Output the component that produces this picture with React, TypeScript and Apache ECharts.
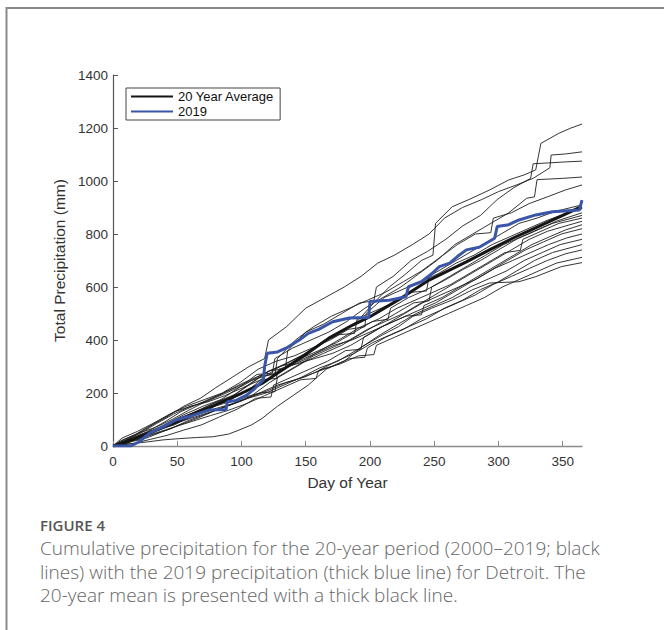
import React, { useEffect, useRef } from "react";
import * as echarts from "echarts";

// Day-of-year / cumulative precipitation (mm) pairs, one array per year (thin black lines)
const year01: [number, number][] = [[0,0],[10,18],[22,40],[35,62],[48,80],[62,115],[75,140],[90,178],[104,205],[118,262],[130,300],[145,335],[160,380],[176,430],[190,470],[203,540],[215,600],[228,650],[240,700],[249,720],[251,840],[264,903],[277,930],[293,966],[308,1004],[320,1023],[329,1042],[331,1092],[333,1142],[347,1180],[356,1199],[365,1215]];
const year02: [number, number][] = [[0,0],[6,20],[18,45],[30,80],[42,110],[55,150],[68,180],[80,220],[93,260],[106,300],[118,330],[121,400],[135,450],[150,520],[165,560],[180,600],[193,640],[206,690],[219,720],[233,760],[246,800],[258,860],[272,900],[287,930],[300,960],[314,985],[327,1010],[340,1050],[341,1098],[352,1102],[365,1110]];
const year03: [number, number][] = [[0,0],[12,22],[25,48],[38,72],[52,105],[65,130],[80,165],[95,195],[108,240],[122,285],[134,290],[136,360],[150,430],[164,460],[178,500],[192,540],[203,548],[205,600],[218,640],[232,700],[245,735],[259,780],[272,830],[286,870],[299,930],[312,975],[325,1010],[327,1065],[338,1068],[352,1072],[365,1075]];
const year04: [number, number][] = [[0,0],[14,20],[28,50],[42,85],[56,120],[70,150],[84,175],[98,220],[112,270],[124,275],[126,330],[140,370],[154,400],[168,430],[182,470],[196,520],[210,560],[224,600],[238,650],[252,700],[266,760],[280,800],[294,840],[308,880],[322,935],[328,940],[330,1005],[350,1010],[365,1015]];
const year05: [number, number][] = [[0,0],[9,25],[21,50],[33,70],[46,100],[59,135],[73,170],[86,200],[100,235],[114,265],[126,270],[128,330],[142,400],[156,450],[170,490],[184,520],[198,550],[212,580],[226,620],[240,660],[254,710],[268,760],[282,800],[294,805],[296,860],[310,880],[324,915],[338,940],[352,966],[365,985]];
const year06: [number, number][] = [[0,0],[11,10],[24,40],[37,65],[50,95],[64,130],[78,160],[92,185],[106,230],[120,280],[134,310],[148,345],[162,390],[176,420],[188,425],[190,480],[204,510],[218,540],[232,580],[244,585],[246,640],[260,680],[274,720],[288,760],[302,800],[316,840],[330,860],[344,885],[365,910]];
const year07: [number, number][] = [[0,0],[7,30],[19,55],[31,85],[44,120],[57,150],[71,175],[85,200],[99,240],[113,290],[127,320],[141,340],[155,370],[169,400],[183,440],[196,450],[197,500],[211,560],[225,590],[239,620],[253,650],[267,690],[281,720],[295,760],[309,790],[323,820],[337,850],[351,875],[365,895]];
const year08: [number, number][] = [[0,0],[13,15],[26,30],[39,55],[52,80],[66,105],[80,135],[94,160],[108,190],[122,240],[136,280],[150,320],[164,350],[178,380],[192,420],[206,460],[220,500],[234,540],[246,548],[248,600],[262,640],[276,680],[290,720],[304,760],[318,790],[332,820],[346,850],[365,880]];
const year09: [number, number][] = [[0,0],[10,20],[23,45],[36,70],[49,100],[62,125],[76,150],[90,170],[104,210],[118,245],[132,290],[146,330],[160,360],[174,390],[188,430],[202,470],[214,478],[216,520],[230,560],[244,590],[258,625],[272,665],[286,700],[300,740],[314,780],[328,810],[342,840],[365,870]];
const year10: [number, number][] = [[0,0],[15,30],[27,55],[40,90],[53,130],[67,160],[81,190],[95,220],[109,250],[123,270],[137,300],[151,330],[165,370],[179,410],[193,450],[207,480],[221,520],[235,550],[249,580],[263,610],[277,650],[291,690],[305,730],[317,738],[319,780],[333,810],[347,840],[365,860]];
const year11: [number, number][] = [[0,0],[8,12],[20,25],[32,45],[45,65],[58,95],[72,120],[86,145],[100,170],[114,200],[126,205],[128,260],[142,300],[156,340],[170,370],[184,400],[198,440],[212,470],[226,500],[240,540],[254,580],[268,620],[282,660],[296,700],[310,740],[324,780],[338,810],[352,830],[365,848]];
const year12: [number, number][] = [[0,0],[12,28],[24,60],[36,95],[48,130],[61,150],[74,170],[88,200],[102,230],[116,270],[130,300],[144,320],[158,350],[172,380],[186,400],[200,430],[214,460],[228,490],[240,495],[242,530],[256,560],[270,600],[284,640],[298,680],[312,720],[326,760],[340,790],[352,815],[365,835]];
const year13: [number, number][] = [[0,0],[16,10],[29,25],[42,40],[55,60],[69,80],[83,110],[97,140],[111,180],[123,185],[125,230],[139,260],[153,290],[167,320],[181,360],[193,365],[195,410],[209,450],[223,480],[237,510],[251,540],[265,580],[279,620],[293,660],[307,700],[321,740],[335,770],[349,800],[365,820]];
const year14: [number, number][] = [[0,0],[10,22],[22,50],[34,85],[47,120],[60,150],[73,165],[87,190],[101,220],[115,250],[127,255],[129,290],[143,310],[157,330],[171,350],[185,380],[199,420],[213,460],[227,500],[241,540],[255,570],[269,600],[283,630],[297,670],[311,700],[325,730],[339,760],[353,785],[365,800]];
const year15: [number, number][] = [[0,0],[13,8],[26,15],[39,23],[52,28],[65,32],[78,35],[90,45],[98,60],[108,80],[116,104],[128,150],[140,190],[152,230],[166,290],[180,320],[194,375],[208,420],[222,460],[236,500],[250,530],[264,560],[278,600],[292,630],[306,660],[320,700],[334,730],[348,760],[365,780]];
const year16: [number, number][] = [[0,0],[11,15],[24,35],[37,55],[50,75],[63,95],[76,115],[90,135],[104,160],[118,190],[132,220],[146,250],[158,255],[160,285],[174,320],[188,350],[202,390],[216,420],[230,450],[244,480],[258,520],[272,550],[286,590],[300,620],[314,660],[328,700],[342,730],[365,760]];
const year17: [number, number][] = [[0,0],[9,18],[21,40],[33,62],[46,90],[59,115],[72,140],[86,160],[100,180],[114,200],[128,230],[142,250],[156,275],[170,300],[184,330],[196,335],[198,370],[212,410],[226,440],[240,480],[254,510],[268,540],[282,570],[296,610],[310,640],[324,670],[338,700],[352,725],[365,740]];
const year18: [number, number][] = [[0,0],[14,25],[27,45],[40,70],[53,95],[66,120],[79,140],[93,160],[107,185],[121,210],[135,240],[149,260],[163,290],[177,310],[191,340],[203,345],[205,380],[219,410],[233,440],[247,470],[261,500],[275,530],[289,560],[303,600],[317,630],[331,660],[345,690],[365,712]];
const year19: [number, number][] = [[0,0],[12,20],[25,40],[38,65],[51,90],[64,110],[77,130],[91,155],[105,180],[119,200],[133,230],[147,260],[161,295],[175,320],[194,375],[210,420],[222,450],[233,488],[248,520],[264,551],[280,590],[293,615],[316,620],[329,639],[349,677],[365,692]];

const yearLines = [year01, year02, year03, year04, year05, year06, year07, year08, year09, year10, year11, year12, year13, year14, year15, year16, year17, year18, year19];

const averageLine: [number, number][] = [[0,0],[10,15],[25,42],[50,92],[75,145],[100,199],[116,236],[125,265],[150,345],[168,407],[184,450],[200,488],[225,560],[246,626],[275,695],[293,740],[311,784],[325,815],[350,870],[362,898],[365,902]];

const line2019: [number, number][] = [[0,0],[14,0],[20,15],[29,50],[40,75],[49,98],[60,112],[68,125],[75,136],[88,138],[89,167],[96,172],[104,192],[110,215],[117,249],[118,300],[120,350],[128,355],[135,370],[145,400],[152,425],[160,440],[171,469],[184,483],[199,485],[200,545],[215,550],[228,563],[230,601],[240,620],[248,650],[254,677],[262,690],[268,715],[275,740],[285,750],[297,784],[299,828],[308,835],[316,853],[329,872],[342,884],[363,891],[365,928]];

const xTicks = [0, 50, 100, 150, 200, 250, 300, 350];
const yTicks = [0, 200, 400, 600, 800, 1000, 1200, 1400];

const figureLabel = "FIGURE 4";
const captionLines = [
  "Cumulative precipitation for the 20-year period (2000\u20132019; black",
  "lines) with the 2019 precipitation (thick blue line) for Detroit. The",
  "20-year mean is presented with a thick black line.",
];

export default function App() {
  const ref = useRef<HTMLDivElement>(null);
  useEffect(() => {
    if (!ref.current) return;
    const chart = echarts.init(ref.current, undefined, { renderer: "svg" });
    const font = "'Liberation Sans', Arial, Helvetica, sans-serif";
    const thinSeries = yearLines.map((d, i) => ({
      type: "line" as const,
      name: "year" + i,
      data: d,
      symbol: "none",
      showSymbol: false,
      silent: true,
      lineStyle: { color: "#1e1e1e", width: 0.9 },
      z: 2,
    }));
    chart.setOption({
      animation: false,
      backgroundColor: "#ffffff",
      grid: { left: 113, top: 75, width: 469, height: 371 },
      xAxis: {
        type: "value",
        min: 0,
        max: 365,
        interval: 50,
        name: "Day of Year",
        nameLocation: "middle",
        nameGap: 28,
        nameTextStyle: { color: "#333", fontSize: 15.5, fontFamily: font },
        axisLine: { show: true, lineStyle: { color: "#8c8c8c", width: 1.3 } },
        axisTick: { show: true, inside: true, length: 5, customValues: xTicks, lineStyle: { color: "#8c8c8c" } },
        axisLabel: { customValues: xTicks, color: "#333", fontSize: 13.5, margin: 8, fontFamily: font, formatter: (v: number) => String(v) },
        splitLine: { show: false },
      },
      yAxis: {
        type: "value",
        min: 0,
        max: 1400,
        interval: 200,
        name: "Total Precipitation (mm)",
        nameLocation: "middle",
        nameGap: 40,
        nameTextStyle: { color: "#333", fontSize: 15.5, fontFamily: font },
        axisLine: { show: true, lineStyle: { color: "#555", width: 1.2 } },
        axisTick: { show: true, inside: true, length: 5, customValues: yTicks, lineStyle: { color: "#555" } },
        axisLabel: { customValues: yTicks, color: "#333", fontSize: 13.5, margin: 5, fontFamily: font, formatter: (v: number) => String(v) },
        splitLine: { show: false },
      },
      legend: {
        data: ["20 Year Average", "2019"],
        orient: "vertical",
        left: 126,
        top: 88,
        padding: [2, 6, 2, 4],
        itemGap: 2,
        itemWidth: 42,
        itemHeight: 14,
        itemStyle: { opacity: 0 },
        backgroundColor: "#fff",
        borderColor: "#444",
        borderWidth: 1,
        borderRadius: 0,
        textStyle: { color: "#111", fontSize: 13, fontFamily: font, padding: [0, 0, 0, 0] },
      },
      graphic: [
        { type: "rect", shape: { x: 6.5, y: 8, width: 900, height: 900 }, style: { fill: "none", stroke: "#8a8a8a", lineWidth: 2 }, silent: true },
        { type: "text", left: 40, top: 517, style: { text: figureLabel, fill: "#555", font: "600 15px 'Open Sans', sans-serif", lineHeight: 15 } },
        ...captionLines.map((t, i) => ({
          type: "text",
          left: 40,
          top: 538 + i * 23.5,
          style: { text: t, fill: "#666", font: "300 19px 'Open Sans', sans-serif", lineHeight: 20 },
        })),
      ],
      series: [
        ...thinSeries,
        {
          type: "line",
          name: "20 Year Average",
          data: averageLine,
          symbol: "none",
          showSymbol: false,
          lineStyle: { color: "#151515", width: 3 },
          itemStyle: { color: "#151515" },
          z: 4,
        },
        {
          type: "line",
          name: "2019",
          data: line2019,
          symbol: "none",
          showSymbol: false,
          lineStyle: { color: "#3a56a8", width: 3 },
          itemStyle: { color: "#3a56a8" },
          z: 5,
        },
      ],
    });
    return () => chart.dispose();
  }, []);
  return (
    <div style={{ position: "fixed", left: 0, top: 0, width: 664, height: 630, background: "#fff" }}>
      <div ref={ref} style={{ width: 664, height: 630 }} />
    </div>
  );
}
